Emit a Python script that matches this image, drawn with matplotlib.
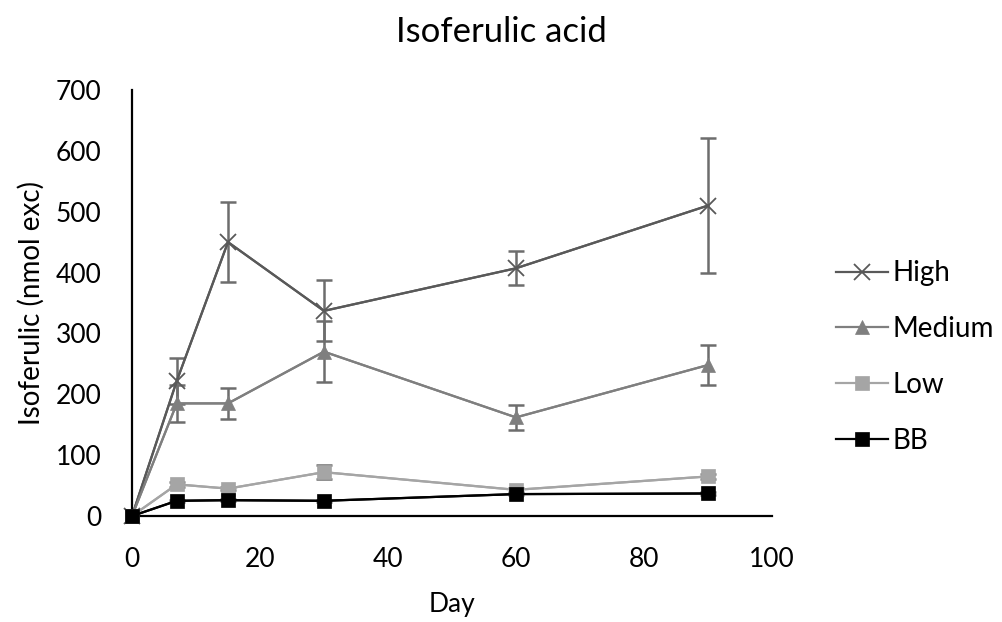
import numpy as np
import matplotlib.pyplot as plt

plt.rcParams['font.family'] = ['Lato', 'DejaVu Sans']

days = [0, 7, 15, 30, 60, 90]

high = [0, 222, 450, 337, 407, 510]
high_err = [0, 38, 66, 50, 28, 111]
medium = [0, 185, 185, 270, 162, 248]
medium_err = [0, 31, 26, 50, 20, 33]
low = [0, 52, 45, 72, 43, 65]
low_err = [0, 4, 3, 12, 3, 4]
bb = [0, 25, 26, 25, 36, 37]
bb_err = [0, 2, 2, 2, 2, 2]

series = [("High", high, high_err, "#595959", "x"),
          ("Medium", medium, medium_err, "#7f7f7f", "^"),
          ("Low", low, low_err, "#a5a5a5", "s"),
          ("BB", bb, bb_err, "#000000", "s")]

fig = plt.figure(figsize=(10.03, 6.22), dpi=100)
ax = fig.add_axes([0.1316, 0.1704, 0.638, 0.685])

for name, vals, err, col, mk in series:
    ax.errorbar(days, vals, yerr=err, color=col, ecolor="#6d6d6d", elinewidth=1.8,
                capsize=6, capthick=1.8, lw=1.6, zorder=2)
    ax.plot(days, vals, color=col, lw=1.6, marker=mk,
            markersize=10 if mk != "x" else 11, markeredgewidth=1.3 if mk == "x" else 0.5,
            label=name, zorder=3, clip_on=False)

ax.set_xlim(0, 100)
ax.set_ylim(0, 700)
ax.set_xticks(np.arange(0, 101, 20))
ax.set_yticks(np.arange(0, 701, 100))
ax.tick_params(length=0, labelsize=19)
ax.tick_params(axis="x", pad=22)
ax.tick_params(axis="y", pad=22)
for s in ["top", "right"]:
    ax.spines[s].set_visible(False)
for s in ["left", "bottom"]:
    ax.spines[s].set_linewidth(1.6)
    ax.spines[s].set_color("black")

ax.set_xlabel("Day", fontsize=19)
ax.xaxis.set_label_coords(0.5, -0.178)
ax.set_ylabel("Isoferulic (nmol exc)", fontsize=20)
ax.yaxis.set_label_coords(-0.137, 0.5)
fig.text(0.5, 0.949, "Isoferulic acid", fontsize=25, ha="center", va="center")

fig.legend(loc="center left", bbox_to_anchor=(0.809, 0.426), frameon=False,
           fontsize=20, handlelength=1.87, labelspacing=1.07, handletextpad=0.15)

fig.savefig("out.png", dpi=100)
